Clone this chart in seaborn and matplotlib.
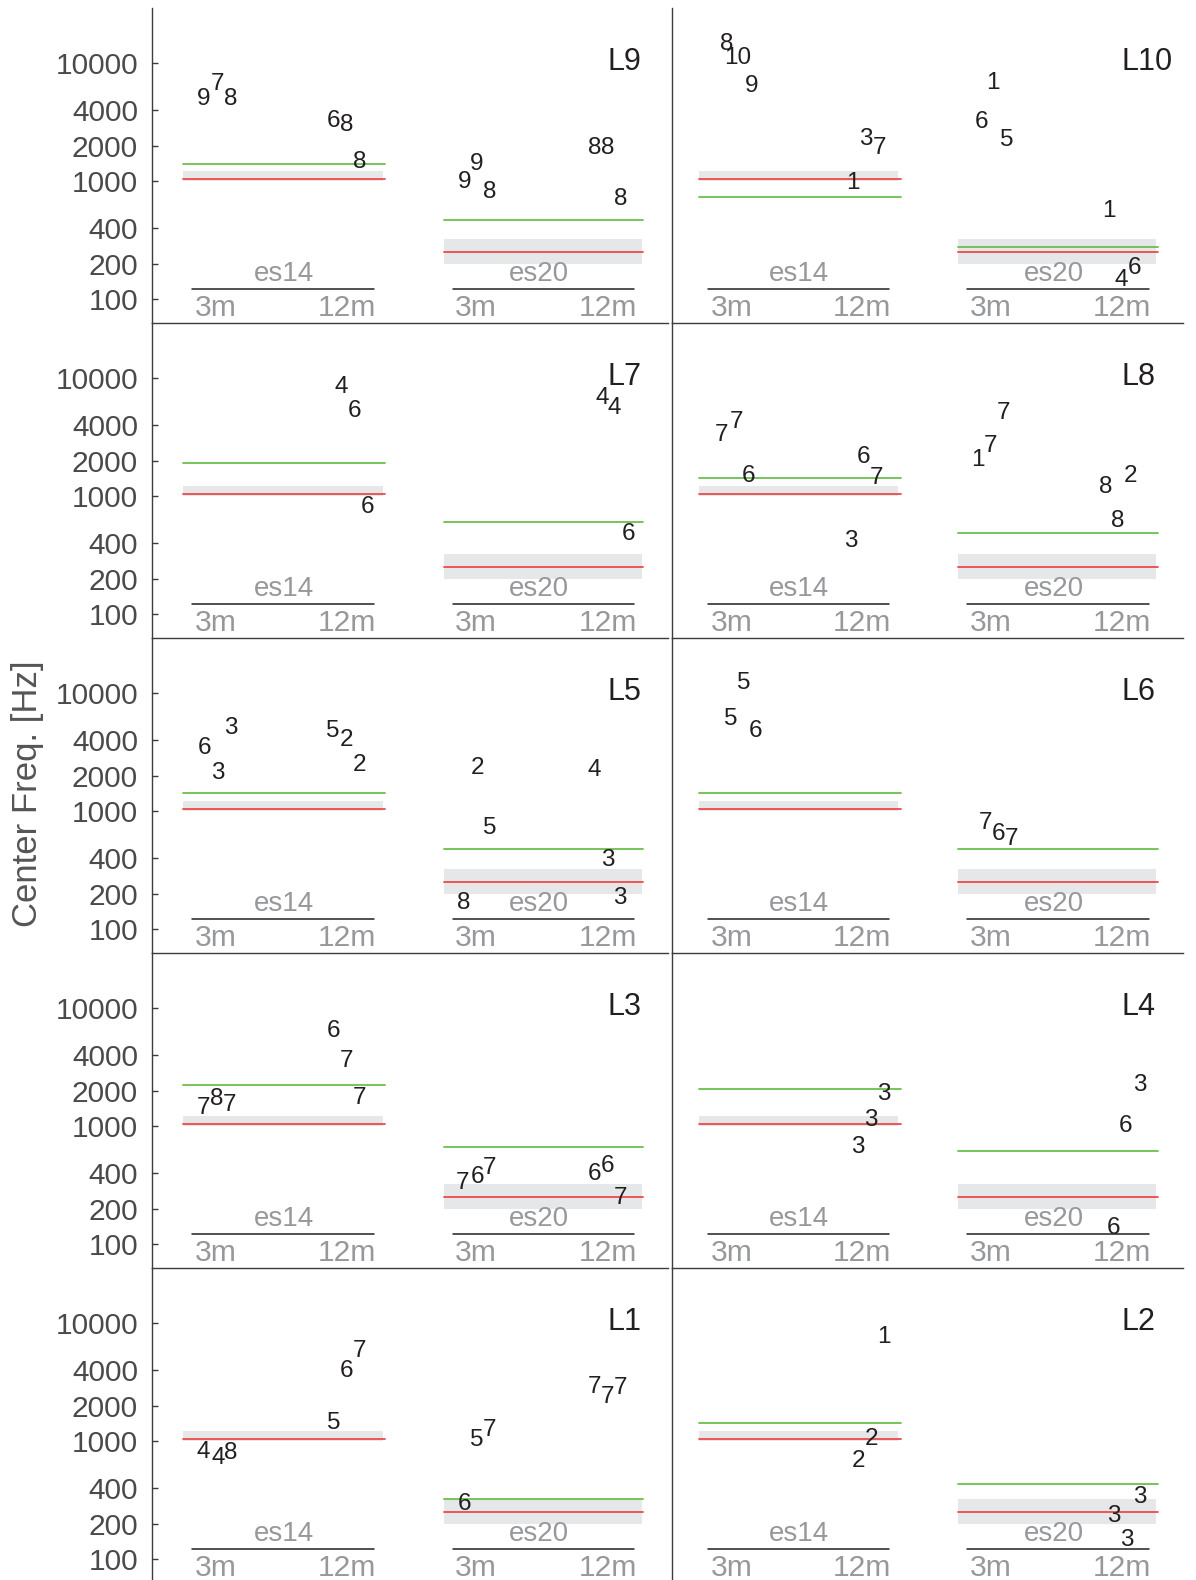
import numpy as np
import pandas as pd
import matplotlib
matplotlib.use("Agg")
import matplotlib.pyplot as plt
import matplotlib.transforms as mtrans
import seaborn as sns

sns.set_theme(style="white")
plt.rcParams['font.family'] = ['Liberation Sans', 'DejaVu Sans']

# panel order, row by row (left, right)
panels = ["L9", "L10", "L7", "L8", "L5", "L6", "L3", "L4", "L1", "L2"]

# green reference line per panel (Hz)
green_es14 = [1400, 740, 1910, 1430, 1420, 1420, 2220, 2080, np.nan, 1430]
green_es20 = [470, 280, 610, 486, 477, 477, 664, 621, 324, 435]

# red line and grey band, same in every panel (Hz)
red_hz = {"es14": 1050, "es20": 250}
band_hz = {"es14": (1000, 1230), "es20": (200, 325)}

# numbered points: label, x position, centre frequency (Hz)
L9_txt = ["9", "7", "8", "6", "8", "8", "9", "9", "8", "8", "8", "8"]
L9_x = [0.40, 0.51, 0.61, 1.41, 1.51, 1.61, 2.42, 2.52, 2.62, 3.43, 3.53, 3.63]
L9_hz = [5285, 6980, 5285, 3420, 3140, 1535, 1045, 1466, 855, 2003, 2003, 750]

L10_txt = ["8", "10", "9", "1", "3", "7", "6", "1", "5", "1", "4", "6"]
L10_x = [0.457, 0.54, 0.65, 1.44, 1.54, 1.645, 2.44, 2.53, 2.64, 3.43, 3.53, 3.63]
L10_hz = [15240, 11750, 6776, 1026, 2421, 2031, 3373, 7210, 2360, 590, 155, 195]

L7_txt = ["4", "6", "6", "4", "4", "6"]
L7_x = [1.47, 1.57, 1.67, 3.49, 3.58, 3.69]
L7_hz = [8950, 5570, 861, 7210, 5860, 501]

L8_txt = ["7", "7", "6", "3", "6", "7", "1", "7", "7", "8", "8", "2"]
L8_x = [0.42, 0.53, 0.625, 1.42, 1.52, 1.62, 2.415, 2.51, 2.61, 3.41, 3.50, 3.60]
L8_hz = [3483, 4519, 1567, 443, 2254, 1514, 2137, 2831, 5310, 1271, 651, 1574]

L5_txt = ["6", "3", "3", "5", "2", "2", "8", "2", "5", "4", "3", "3"]
L5_x = [0.405, 0.51, 0.61, 1.405, 1.51, 1.61, 2.42, 2.52, 2.62, 3.43, 3.53, 3.63]
L5_hz = [3648, 2240, 5383, 5047, 4205, 2600, 175, 2464, 765, 2344, 404, 193]

L6_txt = ["5", "5", "6", "7", "6", "7"]
L6_x = [0.49, 0.59, 0.68, 2.47, 2.57, 2.67]
L6_hz = [6340, 12970, 5047, 843, 671, 609]

L3_txt = ["7", "8", "7", "6", "7", "7", "7", "6", "7", "6", "6", "7"]
L3_x = [0.40, 0.50, 0.60, 1.41, 1.51, 1.61, 2.41, 2.52, 2.62, 3.43, 3.53, 3.63]
L3_hz = [1514, 1782, 1596, 6776, 3767, 1816, 351, 392, 470, 418, 486, 258]

L4_txt = ["3", "3", "3", "6", "6", "3"]
L4_x = [1.48, 1.58, 1.68, 3.47, 3.56, 3.67]
L4_hz = [703, 1183, 1964, 146, 1059, 2360]

L1_txt = ["4", "4", "8", "5", "6", "7", "6", "5", "7", "7", "7", "7"]
L1_x = [0.40, 0.51, 0.61, 1.41, 1.51, 1.61, 2.42, 2.52, 2.62, 3.43, 3.53, 3.63]
L1_hz = [861, 755, 832, 1495, 4160, 6133, 310, 1081, 1315, 3064, 2482, 2960]

L2_txt = ["2", "2", "1", "3", "3", "3"]
L2_x = [1.48, 1.58, 1.68, 3.47, 3.57, 3.67]
L2_hz = [721, 1094, 8110, 245, 153, 357]

sessions = ["es14", "es20"]
timepoints = ["3m", "12m"]
yticks = [100, 200, 400, 1000, 2000, 4000, 10000]

points = {
    "L9": (L9_txt, L9_x, L9_hz), "L10": (L10_txt, L10_x, L10_hz),
    "L7": (L7_txt, L7_x, L7_hz), "L8": (L8_txt, L8_x, L8_hz),
    "L5": (L5_txt, L5_x, L5_hz), "L6": (L6_txt, L6_x, L6_hz),
    "L3": (L3_txt, L3_x, L3_hz), "L4": (L4_txt, L4_x, L4_hz),
    "L1": (L1_txt, L1_x, L1_hz), "L2": (L2_txt, L2_x, L2_hz),
}

# layout of each panel (x in group units, 0..4)
line_x = {"es14": (0.24, 1.81), "es20": (2.26, 3.81)}
band_x = {"es14": (0.24, 1.79), "es20": (2.26, 3.80)}
under_x = {"es14": (0.31, 1.72), "es20": (2.33, 3.74)}
name_x = {"es14": 1.02, "es20": 3.0}

GREEN = "#6cbf4c"
RED = "#ec4a4a"
BAND = "#e6e7e8"
GREY = "#96989b"
INK = "#231f20"
SPINE = "#3c3c3c"

W, H = 1196, 1580
fig = plt.figure(figsize=(W / 100, H / 100), dpi=100)

col_left = [152, 672]
col_w = [516, 511]
col_xlim = [(0, 4), (0.031, 4.008)]
top0, row_h = 8, 315

num_fs = 17.5
num_px = num_fs * 100 / 72


def shifted(ax, dy):
    return mtrans.offset_copy(ax.transData, fig=fig, x=0, y=dy, units='dots')


for i, name in enumerate(panels):
    r, c = divmod(i, 2)
    ax = fig.add_axes([col_left[c] / W, 1 - (top0 + row_h * (r + 1)) / H,
                       col_w[c] / W, row_h / H])
    ax.set_facecolor("none")

    # grey bands
    for s in sessions:
        ax.fill_between(band_x[s], band_hz[s][0], band_hz[s][1],
                        color=BAND, lw=0, zorder=1)

    # green and red reference lines
    rows = []
    greens = {"es14": green_es14[i], "es20": green_es20[i]}
    for s in sessions:
        for k, v in (("green", greens[s]), ("red", red_hz[s])):
            if np.isnan(v):
                continue
            for xx in line_x[s]:
                rows.append({"x": xx, "hz": v, "kind": k, "seg": f"{s}-{k}"})
    lines = pd.DataFrame(rows)
    sns.lineplot(data=lines, x="x", y="hz", hue="kind", units="seg",
                 estimator=None, palette={"green": GREEN, "red": RED},
                 linewidth=1.3, legend=False, ax=ax, zorder=2)

    ax.set_yscale("log")
    ax.set_ylim(63, 29400)
    ax.set_xlim(*col_xlim[c])

    # session names, underlines and time labels
    for s in sessions:
        ax.plot(under_x[s], [123, 123], color=INK, lw=1.1, zorder=2)
        ax.text(name_x[s], 174, s, ha="center", va="baseline", fontsize=20,
                color=GREY, transform=shifted(ax, -10))
        ax.text(under_x[s][0] + 0.02, 89, timepoints[0], ha="left",
                va="baseline", fontsize=21.6, color=GREY,
                transform=shifted(ax, -10.7))
        ax.text(under_x[s][1] + 0.02, 89, timepoints[1], ha="right",
                va="baseline", fontsize=21.6, color=GREY,
                transform=shifted(ax, -10.7))

    # numbered points
    txt, xs, hz = points[name]
    for t, xx, yy in zip(txt, xs, hz):
        ax.text(xx, yy, t, ha="center", va="baseline", fontsize=num_fs,
                color=INK, transform=shifted(ax, -0.716 * num_px / 2), zorder=3)

    # panel name
    ax.text(3.53, 10770, name, ha="left", va="baseline", fontsize=22,
            color=INK, transform=shifted(ax, -11))

    for sp in ["right", "bottom"]:
        ax.spines[sp].set_visible(False)
    ax.spines["top"].set_visible(r > 0)
    for sp in ["left", "top"]:
        ax.spines[sp].set_color(SPINE)
        ax.spines[sp].set_linewidth(1.0)

    ax.set_xticks([])
    ax.set_xlabel("")
    ax.set_ylabel("")
    ax.minorticks_off()
    if c == 0:
        ax.set_yticks(yticks)
        ax.set_yticklabels([str(v) for v in yticks])
        ax.tick_params(axis="y", direction="in", length=4, width=1,
                       color=SPINE, pad=10, labelsize=21.5, labelcolor="#4a4a4a",
                       left=True)
    else:
        ax.set_yticks([])
    ax.yaxis.set_minor_locator(matplotlib.ticker.NullLocator())

fig.text(28 / W, 1 - 794 / H, "Center Freq. [Hz]", rotation=90,
         ha="center", va="center", fontsize=25, color="#555555")

fig.savefig("out.png", dpi=100)
